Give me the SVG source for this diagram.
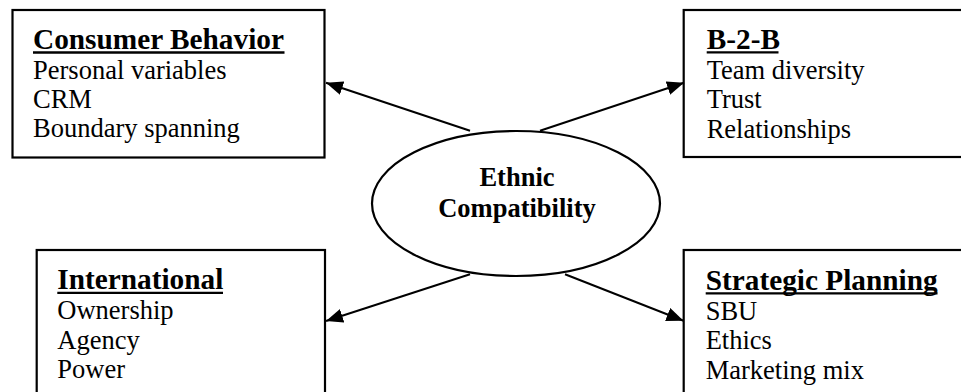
<svg xmlns="http://www.w3.org/2000/svg" width="961" height="392" viewBox="0 0 961 392">
<style>
.box{fill:#fff;stroke:#000;stroke-width:2.2}
.h{font-family:"Liberation Serif","Times New Roman",serif;font-weight:bold;font-size:29.3px;fill:#000}
.b{font-family:"Liberation Serif","Times New Roman",serif;font-size:26.5px;fill:#000}
.c{font-family:"Liberation Serif","Times New Roman",serif;font-weight:bold;font-size:26.5px;fill:#000;text-anchor:middle}
.ul{stroke:#000;stroke-width:2.3}
.conn{stroke:#000;stroke-width:2;fill:none;marker-end:url(#ah)}
</style>
<defs>
<marker id="ah" markerUnits="userSpaceOnUse" markerWidth="18" markerHeight="14" refX="17" refY="7" orient="auto">
<path d="M0,0 L17,7 L0,14 Z" fill="#000"/>
</marker>
</defs>
<rect width="961" height="392" fill="#fff"/>
<g id="consumer-behavior">
<rect class="box" x="12.5" y="10" width="312" height="147.5"/>
<text class="h" x="33" y="49">Consumer Behavior</text>
<line class="ul" x1="33" y1="52.5" x2="284.5" y2="52.5"/>
<text class="b" x="33" y="78.5">Personal variables</text>
<text class="b" x="33" y="108">CRM</text>
<text class="b" x="33" y="137">Boundary spanning</text>
</g>
<g id="b2b">
<rect class="box" x="683.7" y="10" width="300" height="147"/>
<text class="h" x="706.7" y="48.7">B-2-B</text>
<line class="ul" x1="706.7" y1="52.3" x2="778.5" y2="52.3"/>
<text class="b" x="706.7" y="78.5">Team diversity</text>
<text class="b" x="706.7" y="108">Trust</text>
<text class="b" x="706.7" y="137.5">Relationships</text>
</g>
<g id="international">
<rect class="box" x="36.7" y="250" width="288.3" height="160"/>
<text class="h" x="57.3" y="289.3">International</text>
<line class="ul" x1="57.3" y1="292.8" x2="223" y2="292.8"/>
<text class="b" x="57.3" y="319">Ownership</text>
<text class="b" x="57.3" y="348.5">Agency</text>
<text class="b" x="57.3" y="378">Power</text>
</g>
<g id="strategic-planning">
<rect class="box" x="683.7" y="250" width="300" height="160"/>
<text class="h" x="705.7" y="289.8">Strategic Planning</text>
<line class="ul" x1="705.7" y1="293.3" x2="937.5" y2="293.3"/>
<text class="b" x="705.7" y="319.5">SBU</text>
<text class="b" x="705.7" y="349">Ethics</text>
<text class="b" x="705.7" y="378.5">Marketing mix</text>
</g>
<g id="ethnic-compatibility">
<ellipse cx="516" cy="203.5" rx="144" ry="72.5" fill="#fff" stroke="#000" stroke-width="2.2"/>
<text class="c" x="517" y="186">Ethnic</text>
<text class="c" x="517" y="216.5">Compatibility</text>
</g>
<g id="connectors">
<line class="conn" x1="470" y1="130.7" x2="326" y2="82.7"/>
<line class="conn" x1="540" y1="130.7" x2="684" y2="82.7"/>
<line class="conn" x1="470" y1="274.3" x2="326" y2="321"/>
<line class="conn" x1="565" y1="274.3" x2="683.5" y2="320.7"/>
</g>
</svg>
